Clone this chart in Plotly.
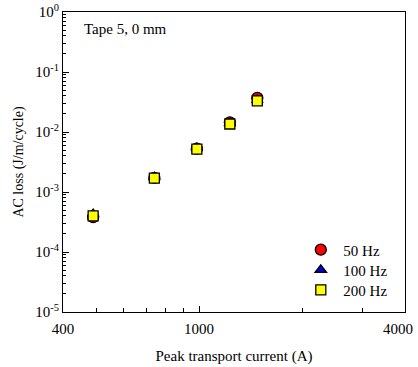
import math
import plotly.graph_objects as go

current_a = [490, 740, 985, 1230, 1480]
loss_50hz = [3.8e-4, 1.72e-3, 5.3e-3, 1.45e-2, 3.7e-2]
loss_100hz = [4.3e-4, 1.75e-3, 5.4e-3, 1.4e-2, 3.4e-2]
loss_200hz = [4.0e-4, 1.70e-3, 5.2e-3, 1.36e-2, 3.3e-2]

x_tickvals = [400, 1000, 4000]
x_ticktext = ["400", "1000", "4000"]
x_minor = [500, 600, 700, 800, 900, 2000, 3000]
y_tickvals = [1e-5, 1e-4, 1e-3, 1e-2, 1e-1, 1e0]
y_ticktext = ["10<sup>-5</sup>", "10<sup>-4</sup>", "10<sup>-3</sup>", "10<sup>-2</sup>", "10<sup>-1</sup>", "10<sup>0</sup>"]
y_minor = [m * 10 ** e for e in range(-5, 0) for m in range(2, 10)]

font_family = "Liberation Serif"

fig = go.Figure()
series = [
    ("50 Hz", loss_50hz, "circle", "#ff0000", 11, "legend"),
    ("100 Hz", loss_100hz, "triangle-up", "#0000dd", 10, "legend2"),
    ("200 Hz", loss_200hz, "square", "#ffff00", 10, "legend3"),
]
for name, vals, sym, col, size, leg in series:
    fig.add_trace(go.Scatter(
        x=current_a, y=vals, mode="markers", name=name, legend=leg,
        marker=dict(symbol=sym, color=col, size=size, line=dict(color="black", width=1.3)),
    ))

legend_rows_y = [0.207, 0.14, 0.073]
common_leg = dict(x=0.688, xanchor="left", yanchor="middle",
                  bgcolor="rgba(0,0,0,0)", font=dict(size=15, family=font_family),
                  itemsizing="trace", itemwidth=35)

annotations = [
    dict(text="Tape 5, 0 mm", x=0.055, y=0.945, xref="paper", yref="paper",
         xanchor="left", yanchor="middle", showarrow=False,
         font=dict(size=15, family=font_family)),
    # last x tick label, nudged inward so it is not cut at the page edge
    dict(text=x_ticktext[-1], x=math.log10(x_tickvals[-1]), y=0, xref="x", yref="paper",
         xanchor="right", yanchor="middle", xshift=10, yshift=-17, showarrow=False,
         font=dict(size=15, family=font_family)),
]

fig.update_layout(
    width=418, height=367,
    margin=dict(l=63, r=13, t=12, b=55),
    paper_bgcolor="white", plot_bgcolor="white",
    font=dict(family=font_family, size=15, color="black"),
    showlegend=True,
    legend=dict(y=legend_rows_y[0], **common_leg),
    legend2=dict(y=legend_rows_y[1], **common_leg),
    legend3=dict(y=legend_rows_y[2], **common_leg),
    annotations=annotations,
)
fig.update_xaxes(
    type="log", range=[math.log10(400) - 1e-6, math.log10(4000) + 1e-6],
    tickvals=x_tickvals[:-1], ticktext=x_ticktext[:-1], automargin=False, ticklabeloverflow="allow",
    ticks="inside", ticklen=6, tickwidth=1, tickcolor="black", ticklabelstandoff=3,
    showline=True, linecolor="black", linewidth=1, mirror=True,
    showgrid=False, zeroline=False,
    tickfont=dict(size=15, family=font_family),
    minor=dict(tickvals=x_minor, ticks="inside", ticklen=4, tickcolor="black", showgrid=False),
    title=dict(text="Peak transport current (A)", font=dict(size=15, family=font_family), standoff=14),
)
fig.update_yaxes(
    type="log", range=[-5, 0],
    tickvals=y_tickvals, ticktext=y_ticktext, automargin=False, ticklabeloverflow="allow",
    ticks="inside", ticklen=6, tickwidth=1, tickcolor="black",
    showline=True, linecolor="black", linewidth=1, mirror=True,
    showgrid=False, zeroline=False,
    tickfont=dict(size=15, family=font_family),
    minor=dict(tickvals=y_minor, ticks="inside", ticklen=3, tickcolor="black", showgrid=False),
    title=dict(text="AC loss (J/m/cycle)", font=dict(size=14, family=font_family), standoff=8),
)

fig.write_html("out.html", config={"displayModeBar": False},
               post_script="document.body.style.margin='0';document.body.style.overflow='hidden';")
